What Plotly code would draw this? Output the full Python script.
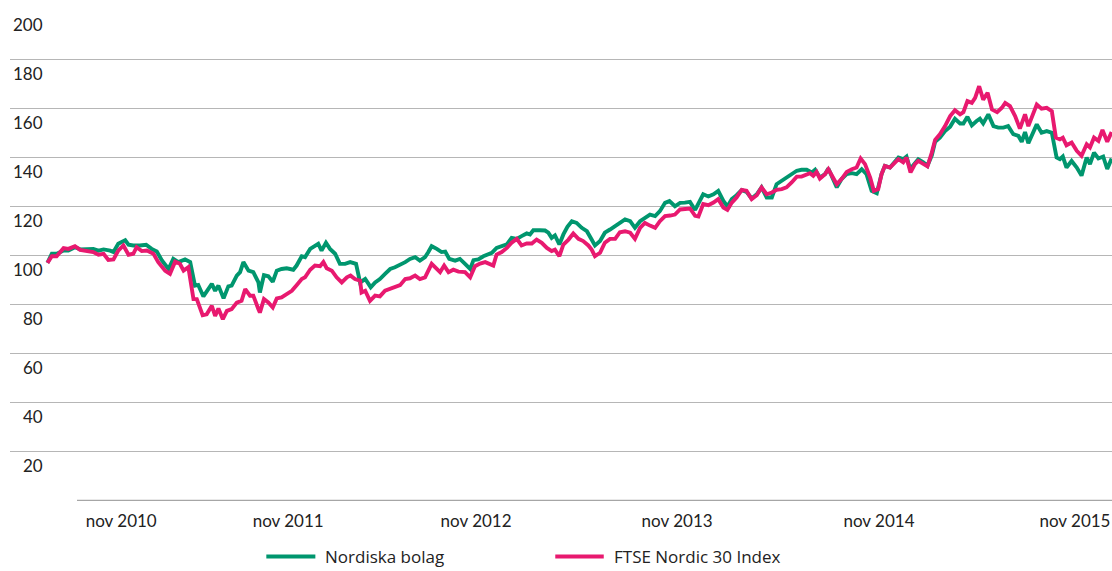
import plotly.graph_objects as go

# Time axis: weeks since start of series
nordiska_week = [0.1, 1.3, 2.6, 4.5, 5.8, 7.6, 9.0, 10.8, 12.6, 14.0, 15.4, 17.2, 18.1, 19.4, 21.3, 22.2, 23.5, 25.3, 27.0, 28.5,
    29.9, 31.3, 33.1, 34.4, 35.8, 37.6, 39.0, 40.3, 41.2, 42.6, 43.5, 44.9, 45.8, 46.7, 48.1, 49.4, 50.3, 51.7, 52.6, 53.5,
    54.9, 56.2, 57.6, 58.0, 59.1, 60.3, 61.5, 62.6, 63.9, 65.3, 67.1, 68.0, 69.4, 70.3, 71.7, 73.0, 73.9, 74.8, 76.0, 77.1,
    78.5, 79.8, 81.2, 82.6, 84.2, 85.3, 86.7, 87.6, 88.2, 89.4, 90.7, 92.1, 93.5, 94.8, 96.2, 97.6, 98.9, 100.3, 101.6, 103.0,
    103.9, 104.8, 106.2, 107.5, 108.5, 109.6, 111.2, 112.5, 113.9, 115.3, 116.2, 117.5, 118.9, 120.3, 121.2, 122.5, 123.9, 125.3, 126.6, 128.0,
    129.3, 130.7, 131.6, 132.5, 134.3, 135.7, 136.6, 137.5, 138.4, 139.6, 140.7, 141.8, 143.0, 144.3, 145.7, 147.1, 148.4, 149.3, 150.7, 152.0,
    153.4, 154.8, 156.1, 157.5, 158.9, 160.2, 161.6, 162.9, 164.3, 165.7, 167.0, 168.4, 169.6, 171.1, 172.5, 173.8, 175.2, 176.6, 177.5, 178.8,
    180.2, 181.6, 182.9, 184.3, 185.4, 186.6, 187.9, 189.3, 190.6, 192.0, 193.4, 194.7, 196.1, 197.5, 198.8, 200.2, 201.5, 202.9, 204.3, 205.6,
    207.0, 208.4, 209.3, 210.6, 212.0, 212.9, 214.3, 215.2, 216.5, 217.9, 219.3, 220.6, 222.0, 223.3, 224.7, 226.1, 227.4, 228.3, 229.7, 231.1,
    232.0, 233.3, 234.2, 235.2, 236.5, 237.4, 238.8, 239.9, 241.1, 242.0, 243.3, 244.7, 246.1, 247.4, 248.8, 249.7, 250.8, 252.0, 253.3, 254.2,
    255.1, 256.5, 257.9, 259.2, 260.6, 261.9, 263.3, 264.7, 265.6, 266.5, 267.4, 268.8, 269.7, 271.0, 272.4, 273.8, 275.1, 276.0, 276.8, 277.8,
    279.2, 280.6, 281.9, 283.3, 284.2, 285.3, 286.5, 287.8, 288.9, 290.1]
nordiska = [97.0, 100.7, 100.7, 102.0, 102.0, 103.4, 102.5, 102.5, 102.7, 102.0, 102.5, 102.0, 101.4, 104.8, 106.2, 104.4, 104.1, 104.1, 104.4, 102.7,
    101.6, 98.0, 94.5, 98.6, 97.3, 98.4, 97.3, 87.7, 88.0, 83.3, 85.2, 88.4, 85.6, 87.7, 82.5, 87.4, 87.7, 91.8, 93.2, 97.3,
    93.8, 93.2, 89.0, 84.9, 92.0, 91.5, 89.3, 93.8, 94.5, 94.8, 94.2, 95.9, 99.7, 99.3, 102.7, 104.1, 104.8, 102.0, 105.2, 102.7,
    100.7, 96.6, 96.6, 97.3, 96.6, 89.0, 90.4, 88.4, 87.0, 89.0, 90.4, 92.5, 94.5, 95.2, 96.2, 97.3, 98.6, 99.3, 97.9, 99.3,
    101.4, 103.8, 102.7, 101.4, 101.6, 98.6, 97.9, 98.6, 96.6, 94.5, 98.1, 98.4, 99.7, 100.4, 101.1, 103.1, 103.8, 104.5, 107.2, 106.8,
    107.9, 109.0, 108.6, 110.3, 110.3, 110.2, 109.3, 107.2, 108.2, 104.5, 108.6, 111.7, 114.0, 113.3, 111.3, 109.9, 106.5, 104.1, 105.9, 109.3,
    110.6, 112.0, 113.3, 114.7, 114.0, 111.3, 114.0, 115.4, 116.7, 116.1, 118.1, 121.5, 122.2, 120.1, 121.5, 121.6, 121.9, 118.6, 121.0, 125.0,
    124.1, 125.0, 126.4, 122.3, 120.0, 123.0, 124.6, 126.7, 126.0, 123.3, 125.0, 127.8, 123.7, 123.7, 129.1, 130.5, 131.4, 133.2, 134.6, 135.0,
    135.0, 133.9, 135.0, 131.8, 133.2, 135.5, 130.5, 127.8, 131.2, 133.2, 133.6, 133.2, 135.2, 133.2, 126.4, 125.4, 133.2, 136.6, 135.9, 138.2,
    140.0, 139.3, 140.4, 135.3, 138.0, 139.3, 138.0, 136.6, 140.9, 146.4, 148.1, 150.8, 152.6, 155.8, 153.9, 153.9, 156.6, 153.1, 154.9, 155.8,
    153.9, 157.6, 152.8, 152.2, 152.2, 152.8, 149.5, 148.8, 146.4, 150.4, 145.8, 150.8, 153.5, 150.1, 150.8, 150.1, 140.0, 139.3, 140.4, 135.9,
    138.6, 135.9, 132.6, 140.0, 137.3, 142.0, 139.6, 140.4, 135.3, 139.6]

ftse_week = [0.1, 1.3, 2.6, 4.5, 5.8, 7.6, 9.0, 10.8, 12.6, 14.0, 15.4, 16.7, 18.1, 19.4, 20.8, 22.2, 23.5, 24.4, 25.8, 27.2,
    29.0, 30.3, 32.2, 33.5, 34.9, 36.2, 37.2, 38.5, 39.9, 40.8, 42.4, 43.5, 44.9, 45.8, 46.7, 47.9, 49.0, 50.3, 51.7, 53.0,
    54.0, 55.3, 56.2, 57.6, 58.0, 59.1, 60.3, 61.5, 62.6, 63.9, 65.3, 66.7, 68.0, 69.4, 70.3, 71.7, 73.0, 74.4, 75.3, 76.2,
    77.6, 78.9, 80.3, 81.7, 82.7, 83.9, 85.3, 85.7, 86.7, 88.0, 89.4, 90.7, 92.1, 93.5, 94.8, 96.2, 97.6, 98.9, 100.3, 101.6,
    103.0, 103.9, 104.8, 106.2, 107.1, 108.2, 109.4, 110.7, 112.1, 113.9, 115.3, 116.6, 118.0, 119.4, 120.7, 121.6, 122.5, 123.9, 125.3, 126.6,
    128.0, 129.3, 130.7, 132.1, 133.4, 134.8, 136.2, 137.5, 138.4, 139.6, 140.7, 142.1, 143.4, 144.8, 146.1, 147.5, 148.4, 149.3, 150.7, 152.0,
    153.4, 154.8, 156.1, 157.5, 158.9, 160.2, 161.6, 162.9, 164.3, 165.7, 167.0, 168.4, 169.8, 171.1, 172.5, 173.8, 175.2, 176.6, 177.5, 178.8,
    180.2, 181.6, 182.9, 184.3, 185.4, 186.6, 187.9, 189.3, 190.6, 192.0, 193.4, 194.7, 196.1, 197.5, 198.8, 200.2, 201.5, 202.9, 204.3, 205.6,
    207.0, 207.9, 208.8, 209.7, 210.6, 212.0, 212.9, 214.3, 215.2, 216.5, 217.9, 219.3, 220.6, 221.7, 222.9, 224.3, 225.3, 226.5, 227.4, 228.3,
    229.7, 231.1, 232.0, 233.3, 234.2, 235.3, 236.5, 237.4, 238.8, 239.9, 241.1, 242.0, 243.3, 244.7, 246.1, 247.4, 248.8, 249.7, 250.8, 252.0,
    252.9, 254.0, 255.1, 256.3, 257.5, 258.9, 260.2, 261.1, 262.4, 263.8, 265.1, 266.5, 267.4, 268.8, 269.7, 271.0, 272.4, 273.8, 274.9, 276.0,
    276.8, 277.8, 279.2, 280.6, 281.9, 283.3, 284.2, 285.3, 286.5, 287.6, 288.9, 290.1]
ftse = [97.0, 99.7, 99.7, 103.0, 102.7, 103.8, 102.3, 102.0, 101.4, 100.3, 100.7, 98.2, 98.4, 102.0, 104.1, 100.3, 100.7, 103.4, 101.8, 102.0,
    100.7, 97.3, 93.8, 92.5, 97.5, 96.6, 93.8, 95.2, 82.2, 82.2, 75.6, 76.0, 79.5, 75.3, 78.4, 74.0, 77.4, 78.1, 80.8, 81.5,
    86.3, 83.6, 83.6, 78.1, 76.7, 82.2, 80.8, 78.8, 82.5, 82.9, 84.2, 85.6, 87.9, 90.4, 91.1, 94.2, 95.9, 95.6, 97.3, 94.8,
    93.8, 91.1, 89.0, 91.1, 91.8, 90.4, 89.7, 84.9, 85.6, 81.5, 83.6, 83.3, 85.6, 86.3, 87.0, 87.9, 90.4, 90.7, 91.8, 90.4,
    91.1, 93.8, 96.6, 94.5, 93.2, 95.9, 93.2, 94.2, 93.4, 93.2, 91.1, 95.6, 96.7, 97.3, 96.7, 95.9, 100.4, 101.4, 103.1, 105.2,
    106.8, 104.1, 104.9, 104.9, 106.5, 105.2, 103.1, 101.8, 102.4, 99.7, 104.5, 106.5, 109.0, 106.8, 105.9, 104.1, 102.4, 99.7, 101.1, 105.2,
    106.8, 106.8, 109.5, 109.9, 109.3, 106.8, 111.3, 113.3, 112.2, 111.3, 114.0, 116.1, 116.3, 116.7, 118.8, 118.9, 119.2, 116.2, 115.9, 121.0,
    120.5, 121.6, 123.0, 119.6, 118.6, 121.6, 123.7, 126.8, 126.4, 123.0, 124.6, 127.8, 125.0, 125.7, 126.8, 127.1, 127.8, 129.8, 132.2, 132.2,
    132.8, 133.6, 132.5, 134.1, 131.4, 133.2, 135.2, 131.2, 129.1, 131.2, 134.1, 135.2, 135.9, 139.6, 137.3, 131.8, 126.4, 127.1, 133.2, 136.6,
    135.9, 138.0, 139.3, 138.0, 140.0, 133.9, 137.3, 138.6, 137.3, 136.4, 142.0, 147.2, 149.5, 152.8, 156.9, 159.3, 157.6, 158.5, 163.0, 162.3,
    164.3, 169.1, 163.6, 166.4, 159.6, 158.5, 160.3, 162.3, 161.0, 156.9, 151.8, 157.6, 152.8, 157.6, 161.6, 159.9, 160.3, 158.9, 148.1, 147.4,
    148.1, 145.0, 146.1, 142.7, 140.7, 145.4, 144.1, 148.1, 146.8, 151.2, 146.4, 150.4]

tick_weeks = [20.2, 65.7, 116.9, 171.7, 226.7, 280.1]
tick_labels = ["nov 2010", "nov 2011", "nov 2012", "nov 2013", "nov 2014", "nov 2015"]
y_ticks = [0, 20, 40, 60, 80, 100, 120, 140, 160, 180, 200]
y_labels = ["", "20", "40", "60", "80", "100", "120", "140", "160", "180", "200"]
series_names = ["Nordiska bolag", "FTSE Nordic 30 Index"]

GREEN = "#00966e"
PINK = "#e8196f"
TICK_FONT = dict(family="Lato", size=17, color="#222222")
LEGEND_FONT = dict(family="Open Sans", size=17, color="#222222")

fig = go.Figure()
fig.add_trace(go.Scatter(x=nordiska_week, y=nordiska, mode="lines", name=series_names[0],
                         line=dict(color=GREEN, width=3.9), showlegend=False))
fig.add_trace(go.Scatter(x=ftse_week, y=ftse, mode="lines", name=series_names[1],
                         line=dict(color=PINK, width=3.9), showlegend=False))

annotations = []
for v, t in zip(y_ticks, y_labels):
    if t:
        annotations.append(dict(x=0, xref="paper", xanchor="right", xshift=35,
                                y=v, yref="y", yanchor="middle", yshift=-14,
                                text=t, showarrow=False, font=TICK_FONT))

# manual legend (kept fully inside the page)
leg_y = -0.113
shapes = [
    dict(type="line", xref="paper", yref="y", x0=0.0608, x1=1, y0=0, y1=0,
         line=dict(color="#a6a6a6", width=1.5)),
    dict(type="line", xref="paper", yref="paper", x0=0.2326, x1=0.2771, y0=leg_y, y1=leg_y,
         line=dict(color=GREEN, width=4)),
    dict(type="line", xref="paper", yref="paper", x0=0.4948, x1=0.5388, y0=leg_y, y1=leg_y,
         line=dict(color=PINK, width=4)),
]
annotations.append(dict(x=0.2840, xref="paper", xanchor="left", y=leg_y, yref="paper", yanchor="middle",
                        text=series_names[0], showarrow=False, font=LEGEND_FONT))
annotations.append(dict(x=0.5463, xref="paper", xanchor="left", y=leg_y, yref="paper", yanchor="middle",
                        text=series_names[1], showarrow=False, font=LEGEND_FONT))

fig.update_layout(
    width=1112, height=571,
    margin=dict(l=10, r=0, t=10, b=70),
    paper_bgcolor="white", plot_bgcolor="white",
    showlegend=False,
    annotations=annotations,
    shapes=shapes,
    xaxis=dict(range=[-10.1, 290.2], tickvals=tick_weeks, ticktext=tick_labels,
               showgrid=False, zeroline=False, showline=False, ticks="",
               ticklabelstandoff=8, tickfont=TICK_FONT, fixedrange=True),
    yaxis=dict(range=[-0.2, 200.2], tickvals=y_ticks, showticklabels=False,
               showgrid=True, gridcolor="#b6b6b6", gridwidth=1, zeroline=False,
               showline=False, ticks="", fixedrange=True),
)

fig.write_html("out.html", config={"displayModeBar": False},
               post_script="document.body.style.margin='0';document.body.style.overflow='hidden';")
